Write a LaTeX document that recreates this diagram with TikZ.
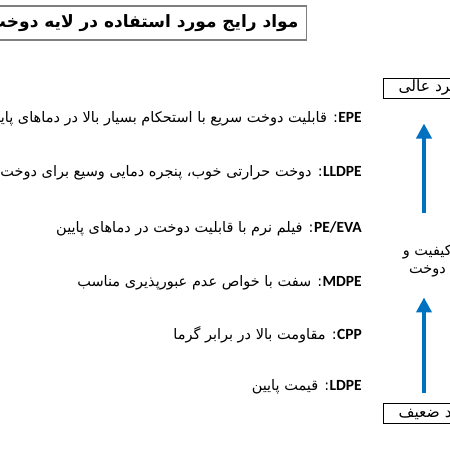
\documentclass[tikz,border=0pt]{standalone}
\usepackage{fontspec}
\setmainfont{Carlito}
\newfontfamily\arabicfont[Script=Arabic]{DejaVu Sans}
\usetikzlibrary{arrows.meta,positioning}
\TeXXeTstate=1
\definecolor{arrowblue}{HTML}{0070C0}
\definecolor{framegray}{HTML}{7F7F7F}

\begin{document}
\begin{tikzpicture}[
        x=1pt, y=-1pt,
        titlebox/.style={
          draw=framegray,
          line width=1.2pt,
          minimum height=34pt,
          inner xsep=8pt,
          anchor=east,
          font=\arabicfont\bfseries\fontsize{17}{20}\selectfont
        },
        levelbox/.style={
          draw,
          line width=1pt,
          minimum height=20pt,
          inner xsep=15pt,
          inner ysep=0pt,
          anchor=west,
          font=\arabicfont\fontsize{15.5}{18}\selectfont
        },
        tag/.style={
          anchor=base east,
          inner sep=0pt,
          font=\bfseries\fontsize{15.5}{18}\selectfont
        },
        desc/.style={
          anchor=base east,
          inner sep=0pt,
          font=\arabicfont\fontsize{14.5}{18}\selectfont
        },
        arrow/.style={
          -{Triangle[length=15pt,width=15pt]},
          line width=4pt,
          arrowblue
        }
      ]
      \useasboundingbox (0,0) rectangle (450,450);
      \clip (0,0) rectangle (450,450);

      \node[titlebox] (title) at (307,23) {\beginR مواد رایج مورد استفاده در لایه دوخت\endR};

      % materials
      \node[tag] (epe) at (362,122) {EPE};
      \node[desc] (epetxt) at (epe.base west) {\beginR: قابلیت دوخت سریع با استحکام بسیار بالا در دماهای پایین\endR};
      \node[tag] (lldpe) at (362,176) {LLDPE};
      \node[desc] (lldpetxt) at (lldpe.base west) {\beginR: دوخت حرارتی خوب، پنجره دمایی وسیع برای دوخت\endR};
      \node[tag] (peeva) at (362,232) {PE/EVA};
      \node[desc] (peevatxt) at (peeva.base west) {\beginR: فیلم نرم با قابلیت دوخت در دماهای پایین\endR};
      \node[tag] (mdpe) at (362,286) {MDPE};
      \node[desc] (mdpetxt) at (mdpe.base west) {\beginR: سفت با خواص عدم عبورپذیری مناسب\endR};
      \node[tag] (cpp) at (362,339) {CPP};
      \node[desc] (cpptxt) at (cpp.base west) {\beginR: مقاومت بالا در برابر گرما\endR};
      \node[tag] (ldpe) at (362,390) {LDPE};
      \node[desc] (ldpetxt) at (ldpe.base west) {\beginR: قیمت پایین\endR};

      % scale
      \node[levelbox] (high) at (383,88) {\beginR عملکرد عالی\endR};
      \node[levelbox] (low) at (383,413.5) {\beginR عملکرد ضعیف\endR};
      \node[align=right, anchor=east, inner sep=0pt, font=\arabicfont\fontsize{14.5}{18}\selectfont] (mid) at (502,261)
        {\beginR افزایش کیفیت و\endR\\\beginR استحکام دوخت\endR};
      \coordinate (axis) at (424,0);

      \draw[arrow, shorten <=32pt, shorten >=25pt] (axis |- mid.north) -- (axis |- high.south);
      \draw[arrow, shorten <=10.5pt, shorten >=20pt] (axis |- low.north) -- (axis |- mid.south);

      \end{tikzpicture}
\end{document}
